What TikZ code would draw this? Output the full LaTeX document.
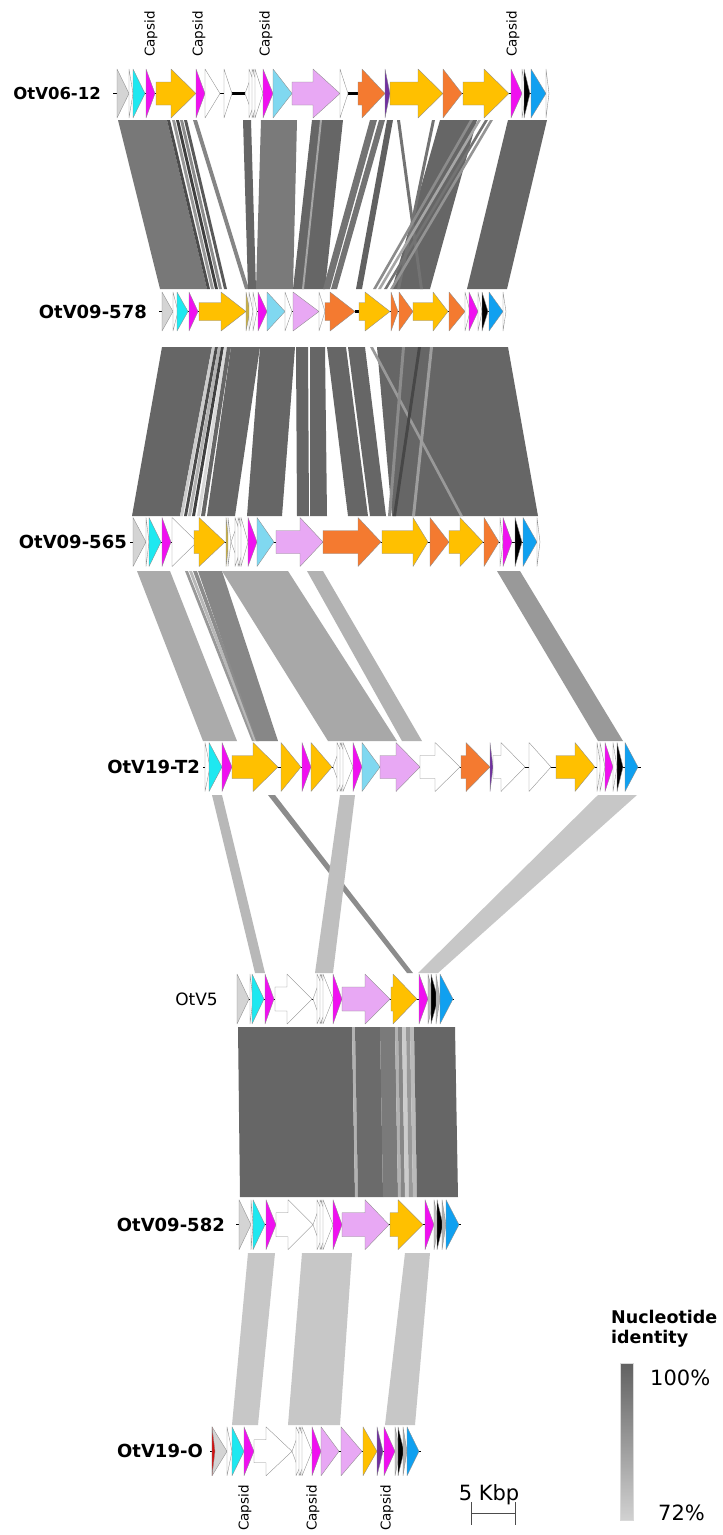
\documentclass[tikz,border=0pt]{standalone}
\usepackage{fontspec}
\setmainfont{DejaVu Sans}
\definecolor{ggrey}{HTML}{D4D4D4}
\definecolor{gcyan}{HTML}{1EE8F0}
\definecolor{gmag}{HTML}{F010F0}
\definecolor{gyel}{HTML}{FFC000}
\definecolor{glblue}{HTML}{80D8F0}
\definecolor{gpink}{HTML}{E8A8F4}
\definecolor{gorange}{HTML}{F47A30}
\definecolor{gblue}{HTML}{10A0F0}
\definecolor{gpurple}{HTML}{7030A0}
\definecolor{golive}{HTML}{C8B048}
\definecolor{gred}{HTML}{D01010}
\tikzset{
  gene/.style={draw=black!45, line width=0.35pt, line join=round},
  bb/.style={line width=0.9pt, black},
  bbt/.style={line width=2.2pt, black},
  lbl/.style={font=\fontsize{18}{20}\selectfont\bfseries, anchor=east, inner sep=0pt},
  capl/.style={font=\fontsize{13.5}{15}\selectfont, rotate=90, inner sep=0pt},
  legt/.style={font=\fontsize{21}{24}\selectfont, anchor=base west, inner sep=0pt},
}
\def\gY{0}\def\gH{24.5}\def\gB{11.5}
\newcommand{\gtri}[3]{\filldraw[gene,fill=#3] (#1,\gY-\gH) -- (#2,\gY) -- (#1,\gY+\gH) -- cycle;}
\newcommand{\gtrl}[3]{\filldraw[gene,fill=#3] (#2,\gY-\gH) -- (#1,\gY) -- (#2,\gY+\gH) -- cycle;}
\newcommand{\garr}[4]{\filldraw[gene,fill=#4] (#1,\gY-\gB) -- (#2,\gY-\gB) -- (#2,\gY-\gH) -- (#3,\gY) -- (#2,\gY+\gH) -- (#2,\gY+\gB) -- (#1,\gY+\gB) -- cycle;}
\newcommand{\aband}[7]{\fill[fill=#7] (#2,#1) -- (#3,#1) -- (#6,#4) -- (#5,#4) -- cycle;}
\newcommand{\wcl}[2]{\gtrl{#1}{#1+9}{white}\gtri{#1+4}{#2-5}{white}\gtri{#1+7}{#2-2}{white}\gtri{#1+10}{#2}{white}}
\begin{document}
\begin{tikzpicture}[x=1pt,y=-1pt]
\useasboundingbox (0,0) rectangle (723,1535);
\fill[white] (0,0) rectangle (723,1535);

% ===== band region 1 =====
\def\t{120}\def\b{289}
\aband{\t}{118}{167}{\b}{160}{207}{black!53}
\aband{\t}{167}{170}{\b}{207}{210}{black!70}
\aband{\t}{172}{175}{\b}{211}{214}{black!40}
\aband{\t}{176}{179}{\b}{215}{218}{black!75}
\aband{\t}{180}{183}{\b}{219}{222}{black!45}
\aband{\t}{184}{187}{\b}{224}{227}{black!65}
\aband{\t}{193}{197}{\b}{245}{249}{black!48}
\aband{\t}{243}{251}{\b}{248}{256}{black!60}
\aband{\t}{261}{297}{\b}{256}{293}{black!52}
\aband{\t}{312}{343}{\b}{293}{325}{black!60}
\aband{\t}{320}{322}{\b}{302}{304}{black!35}
\aband{\t}{370}{377}{\b}{323}{330}{black!55}
\aband{\t}{379}{385}{\b}{331}{337}{black!55}
\aband{\t}{387}{393}{\b}{356}{362}{black!62}
\aband{\t}{440}{477}{\b}{392}{430}{black!60}
\aband{\t}{397}{400}{\b}{420}{423}{black!55}
\aband{\t}{432}{435}{\b}{397}{400}{black!55}
\aband{\t}{470}{473}{\b}{373}{376}{black!45}
\aband{\t}{478}{481}{\b}{378}{381}{black!35}
\aband{\t}{485}{488}{\b}{384}{387}{black!55}
\aband{\t}{490}{493}{\b}{390}{393}{black!42}
\aband{\t}{508}{547}{\b}{467}{507}{black!60}

% ===== band region 2 =====
\def\t{347}\def\b{516}
\aband{\t}{162}{212}{\b}{132}{180}{black!60}
\aband{\t}{212}{215}{\b}{180}{183}{black!20}
\aband{\t}{215}{218}{\b}{184}{187}{black!70}
\aband{\t}{218}{221}{\b}{188}{191}{black!30}
\aband{\t}{221}{224}{\b}{192}{195}{black!75}
\aband{\t}{224}{227}{\b}{197}{200}{black!15}
\aband{\t}{227}{231}{\b}{201}{205}{black!60}
\aband{\t}{231}{260}{\b}{207}{235}{black!60}
\aband{\t}{260}{295}{\b}{247}{282}{black!60}
\aband{\t}{296}{308}{\b}{297}{309}{black!60}
\aband{\t}{310}{325}{\b}{310}{327}{black!60}
\aband{\t}{327}{346}{\b}{348}{368}{black!60}
\aband{\t}{348}{365}{\b}{370}{386}{black!60}
\aband{\t}{377}{508}{\b}{392}{538}{black!60}
\aband{\t}{370}{373}{\b}{460}{463}{black!40}
\aband{\t}{402}{405}{\b}{388}{391}{black!45}
\aband{\t}{418}{421}{\b}{393}{396}{black!72}
\aband{\t}{430}{433}{\b}{412}{415}{black!38}

% ===== band region 3 =====
\def\t{571}\def\b{741}
\aband{\t}{137}{170}{\b}{203}{237}{black!33}
\aband{\t}{185}{188}{\b}{252}{255}{black!40}
\aband{\t}{189}{192}{\b}{254}{257}{black!28}
\aband{\t}{193}{197}{\b}{256}{259}{black!45}
\aband{\t}{198}{222}{\b}{257}{278}{black!47}
\aband{\t}{222}{288}{\b}{328}{397}{black!34}
\aband{\t}{307}{323}{\b}{402}{422}{black!30}
\aband{\t}{497}{520}{\b}{598}{623}{black!40}

% ===== band region 4 =====
\def\t{795}\def\b{973}
\aband{\t}{212}{222}{\b}{255}{265}{black!28}
\aband{\t}{268}{275}{\b}{407}{413}{black!45}
\aband{\t}{340}{355}{\b}{315}{333}{black!25}
\aband{\t}{598}{637}{\b}{418}{438}{black!22}

% ===== band region 5 =====
\def\t{1027}\def\b{1197}
\aband{\t}{238}{352}{\b}{240}{355}{black!60}
\aband{\t}{352}{355}{\b}{355}{358}{black!30}
\aband{\t}{355}{380}{\b}{358}{383}{black!58}
\aband{\t}{380}{395}{\b}{383}{398}{black!52}
\aband{\t}{395}{398}{\b}{398}{401}{black!30}
\aband{\t}{398}{402}{\b}{401}{405}{black!47}
\aband{\t}{402}{406}{\b}{405}{409}{black!20}
\aband{\t}{406}{410}{\b}{409}{413}{black!40}
\aband{\t}{410}{414}{\b}{413}{417}{black!27}
\aband{\t}{414}{455}{\b}{417}{458}{black!60}

% ===== band region 6 =====
\def\t{1253}\def\b{1425}
\aband{\t}{248}{275}{\b}{232}{258}{black!22}
\aband{\t}{302}{352}{\b}{288}{340}{black!22}
\aband{\t}{405}{430}{\b}{385}{415}{black!22}

% ===== Row 1: OtV06-12 =====
\def\gY{93.5}\def\gH{24.5}\def\gB{11.5}
\node[lbl, font=\fontsize{16.5}{18}\selectfont\bfseries] (r1) at (101,\gY) {OtV06-12};
\draw[bb] (113,\gY) -- (549,\gY);
\draw[bbt] (232,\gY) -- (245,\gY);
\draw[bbt] (348,\gY) -- (358,\gY);
\gtri{117}{129}{ggrey}
\gtri{129}{133}{white}
\gtri{133}{145}{gcyan}
\gtri{146}{155}{gmag}
\garr{156}{171}{196}{gyel}
\gtri{196}{205}{gmag}
\gtri{205}{220}{white}
\gtri{224}{232}{white}
\wcl{245}{263}
\gtri{263}{273}{gmag}
\gtri{273}{292}{glblue}
\garr{292}{313}{340}{gpink}
\gtri{340}{348}{white}
\garr{358}{362}{385}{gorange}
\gtri{385}{390}{gpurple}
\garr{390}{418}{443}{gyel}
\gtri{443}{462}{gorange}
\garr{463}{484}{509}{gyel}
\gtri{511}{522}{gmag}
\gtri{522}{526}{white}
\gtri{524}{530}{black}
\gtri{531}{546}{gblue}
\gtri{546}{549}{white}
\node[capl, anchor=west] (c1) at (151,57) {Capsid};
\node[capl, anchor=west] (c2) at (199,57) {Capsid};
\node[capl, anchor=west] (c3) at (266,57) {Capsid};
\node[capl, anchor=west] (c4) at (513,57) {Capsid};

% ===== Row 2: OtV09-578 =====
\def\gY{311.5}\def\gH{19.5}\def\gB{9}
\node[lbl] (r2) at (147,\gY) {OtV09-578};
\draw[bb] (159,\gY) -- (506,\gY);
\draw[bbt] (355,\gY) -- (360,\gY);
\gtri{162}{173}{ggrey}
\gtri{173}{178}{white}
\gtri{177}{188}{gcyan}
\gtri{189}{198}{gmag}
\garr{199}{221}{246}{gyel}
\gtri{246}{250}{golive}
\gtri{249}{253}{white}
\gtri{253}{257}{white}
\gtri{258}{267}{gmag}
\gtri{267}{285}{glblue}
\gtri{285}{292}{white}
\gtri{293}{319}{gpink}
\gtri{319}{325}{white}
\garr{325}{330}{355}{gorange}
\garr{359}{365}{390}{gyel}
\gtri{391}{398}{gorange}
\gtri{399}{413}{gorange}
\garr{413}{433}{448}{gyel}
\gtri{449}{465}{gorange}
\gtri{465}{470}{white}
\gtri{469}{478}{gmag}
\gtri{478}{482}{white}
\gtri{482}{488}{black}
\gtri{489}{503}{gblue}
\gtri{503}{506}{white}

% ===== Row 3: OtV09-565 =====
\def\gY{542}\def\gH{24.5}\def\gB{11.5}
\node[lbl] (r3) at (127,\gY) {OtV09-565};
\draw[bb] (130,\gY) -- (540,\gY);
\gtri{133}{146}{ggrey}
\gtri{146}{149}{white}
\gtri{149}{161}{gcyan}
\gtri{162}{171}{gmag}
\gtri{172}{197}{white}
\garr{194}{199}{225}{gyel}
\gtri{226}{229}{golive}
\gtri{228}{231}{white}
\wcl{231}{248}
\gtri{248}{257}{gmag}
\gtri{257}{274}{glblue}
\garr{276}{300}{323}{gpink}
\garr{323}{358}{381}{gorange}
\garr{382}{413}{428}{gyel}
\gtri{430}{449}{gorange}
\garr{449}{460}{483}{gyel}
\gtri{484}{499}{gorange}
\gtri{500}{503}{white}
\gtri{503}{512}{gmag}
\gtri{515}{522}{black}
\gtri{523}{537}{gblue}
\gtri{537}{540}{white}

% ===== Row 4: OtV19-T2 =====
\def\gY{767}\def\gH{24.5}\def\gB{11.5}
\node[lbl] (r4) at (200,\gY) {OtV19-T2};
\draw[bb] (203,\gY) -- (641,\gY);
\gtri{205}{210}{white}
\gtri{209}{222}{gcyan}
\gtri{222}{232}{gmag}
\garr{232}{253}{278}{gyel}
\gtri{281}{301}{gyel}
\gtri{302}{311}{gmag}
\gtri{311}{332}{gyel}
\wcl{333}{353}
\gtri{353}{362}{gmag}
\gtri{362}{380}{glblue}
\garr{380}{396}{420}{gpink}
\garr{420}{435}{460}{white}
\garr{461}{466}{490}{gorange}
\gtri{490}{493}{gpurple}
\garr{493}{501}{525}{white}
\gtri{529}{551}{white}
\garr{556}{575}{595}{gyel}
\gtri{597}{601}{white}
\gtri{600}{605}{white}
\gtri{605}{613}{gmag}
\gtri{613}{617}{white}
\gtri{617}{623}{black}
\gtri{625}{638}{gblue}

% ===== Row 5: OtV5 =====
\def\gY{999}\def\gH{25}\def\gB{12}
\node[lbl, font=\fontsize{17}{19}\selectfont] (r5) at (218,\gY) {OtV5};
\draw[bb] (237,\gY) -- (454,\gY);
\gtri{237}{249}{ggrey}
\gtri{250}{253}{white}
\gtri{252}{264}{gcyan}
\gtri{265}{274}{gmag}
\garr{275}{287}{312}{white}
\wcl{313}{333}
\gtri{333}{342}{gmag}
\garr{342}{365}{390}{gpink}
\garr{391}{393}{417}{gyel}
\gtri{419}{428}{gmag}
\gtri{428}{434}{black!25}
\gtri{431}{438}{black}
\gtri{436}{440}{black!30}
\gtri{440}{453}{gblue}

% ===== Row 6: OtV09-582 =====
\def\gY{1224.7}\def\gH{25}\def\gB{12}
\node[lbl] (r6) at (225,\gY) {OtV09-582};
\draw[bb] (236,\gY) -- (461,\gY);
\gtri{239}{251}{ggrey}
\gtri{251}{253}{white}
\gtri{253}{265}{gcyan}
\gtri{266}{276}{gmag}
\garr{276}{288}{313}{white}
\wcl{313}{333}
\gtri{333}{342}{gmag}
\garr{342}{365}{389}{gpink}
\garr{390}{398}{423}{gyel}
\gtri{425}{434}{gmag}
\gtri{434}{439}{black!25}
\gtri{437}{443}{black}
\gtri{442}{446}{black!30}
\gtri{446}{459}{gblue}

% ===== Row 7: OtV19-O =====
\def\gY{1451.3}\def\gH{24.5}\def\gB{11.5}
\node[lbl] (r7) at (203,\gY) {OtV19-O};
\draw[bb] (210,\gY) -- (421,\gY);
\gtri{212}{227}{ggrey}
\gtri{212}{215}{gred}
\gtri{227}{232}{white}
\gtri{232}{244}{gcyan}
\gtri{244}{254}{gmag}
\garr{254}{266}{292}{white}
\wcl{292}{312}
\gtri{312}{321}{gmag}
\gtri{321}{339}{gpink}
\gtri{341}{362}{gpink}
\gtri{363}{377}{gyel}
\gtri{377}{383}{gpurple}
\gtri{384}{395}{gmag}
\gtri{395}{400}{black!25}
\gtri{398}{404}{black}
\gtri{403}{407}{black!30}
\gtri{407}{419}{gblue}
\node[capl, anchor=east] (c5) at (245,1485) {Capsid};
\node[capl, anchor=east] (c6) at (313,1485) {Capsid};
\node[capl, anchor=east] (c7) at (387,1485) {Capsid};

% ===== scale bar =====
\node[legt, anchor=base] (sb) at (489,1500) {5 Kbp};
\coordinate (sbl) at (471,1513);
\coordinate (sbr) at (515,1513);
\draw[black!70, line width=0.9pt] (sbl) -- (sbr);
\draw[black!70, line width=0.9pt] ([yshift=11pt]sbl) -- ([yshift=-12pt]sbl);
\draw[black!70, line width=0.9pt] ([yshift=11pt]sbr) -- ([yshift=-12pt]sbr);

% ===== legend =====
\node[font=\fontsize{17.5}{20}\selectfont\bfseries, anchor=base west, inner sep=0pt] (lg1) at (611,1323) {Nucleotide};
\node[font=\fontsize{17.5}{20}\selectfont\bfseries, anchor=base west, inner sep=0pt] (lg2) at (611,1343) {identity};
\shade[top color=black!62, bottom color=black!18] (620,1363) rectangle (633,1520);
\draw[black!15, line width=0.4pt] (620,1363) rectangle (633,1520);
\node[legt] (l100) at (650,1385) {100\%};
\node[legt] (l72) at (658,1520) {72\%};
\end{tikzpicture}
\end{document}
